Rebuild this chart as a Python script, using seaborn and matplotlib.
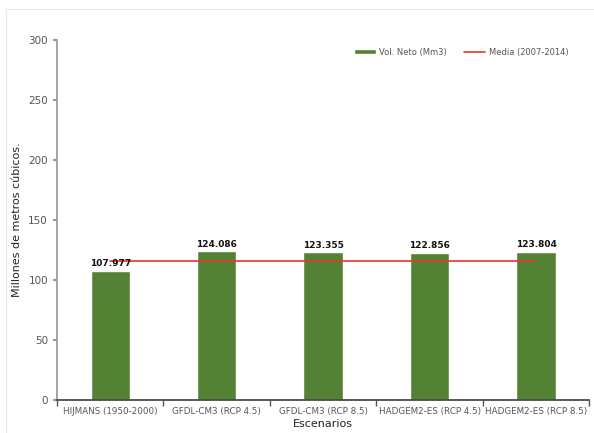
import matplotlib
matplotlib.use("Agg")
import matplotlib.pyplot as plt
import seaborn as sns
import pandas as pd
from matplotlib.patches import Rectangle
from matplotlib.ticker import FixedLocator

escenarios = ["HIJMANS (1950-2000)", "GFDL-CM3 (RCP 4.5)", "GFDL-CM3 (RCP 8.5)",
              "HADGEM2-ES (RCP 4.5)", "HADGEM2-ES (RCP 8.5)"]
vol_neto = [107.977, 124.086, 123.355, 122.856, 123.804]
media_2007_2014 = 116.0

sns.set_theme(style="white")
plt.rcParams["font.family"] = ["DejaVu Sans"]

df = pd.DataFrame({"Escenario": escenarios, "Vol": vol_neto})

fig = plt.figure(figsize=(5.94, 4.33), dpi=100)
# faint chart-area frame
fig.patches.append(Rectangle((6 / 594, -0.05), 1.2, 1 - 9 / 433 + 0.05,
                             transform=fig.transFigure, fill=False,
                             edgecolor="#e6e6e6", linewidth=0.8))
ax = fig.add_axes([0.096, 0.076, 0.896, 0.8314])

sns.barplot(data=df, x="Escenario", y="Vol", color="#548235", saturation=1,
            width=0.37, ax=ax, label="Vol. Neto (Mm3)", zorder=2)
sns.lineplot(x=list(range(len(escenarios))), y=[media_2007_2014] * len(escenarios),
             color="#e8342f", linewidth=1.2, ax=ax, label="Media (2007-2014)", zorder=3)

for i, v in enumerate(vol_neto):
    ax.text(i, v + 2, f"{v:.3f}", ha="center", va="bottom", fontsize=6.5,
            fontweight="bold", color="#111111")

ax.set_xlim(-0.5, len(escenarios) - 0.5)
ax.set_ylim(0, 300)
ax.set_yticks(range(0, 301, 50))
ax.tick_params(axis="y", labelsize=7.5, labelcolor="#555555", length=3,
               color="#888888", direction="out", left=True)
ax.tick_params(axis="x", which="major", length=0, labelsize=6.3,
               labelcolor="#555555", pad=5)
ax.xaxis.set_minor_locator(FixedLocator([i - 0.5 for i in range(len(escenarios) + 1)]))
ax.tick_params(axis="x", which="minor", length=4, color="#555555", bottom=True)

for side in ["top", "right"]:
    ax.spines[side].set_visible(False)
ax.spines["left"].set_color("#999999")
ax.spines["bottom"].set_color("#444444")

ax.set_xlabel("Escenarios", fontsize=8, color="#222222", labelpad=2)
ax.set_ylabel("Millones de metros cúbicos.", fontsize=8, color="#222222", labelpad=2)
ax.yaxis.set_label_coords(-0.065, 0.5)

handles, labels = ax.get_legend_handles_labels()
order = [labels.index("Vol. Neto (Mm3)"), labels.index("Media (2007-2014)")]
ax.legend([handles[i] for i in order], [labels[i] for i in order],
          loc="upper right", bbox_to_anchor=(0.975, 1.0), ncol=2, frameon=False,
          fontsize=6, labelcolor="#555555", handlelength=2.6, handleheight=0.5,
          columnspacing=2.0, handletextpad=0.4)

fig.savefig("out.png", dpi=100)
